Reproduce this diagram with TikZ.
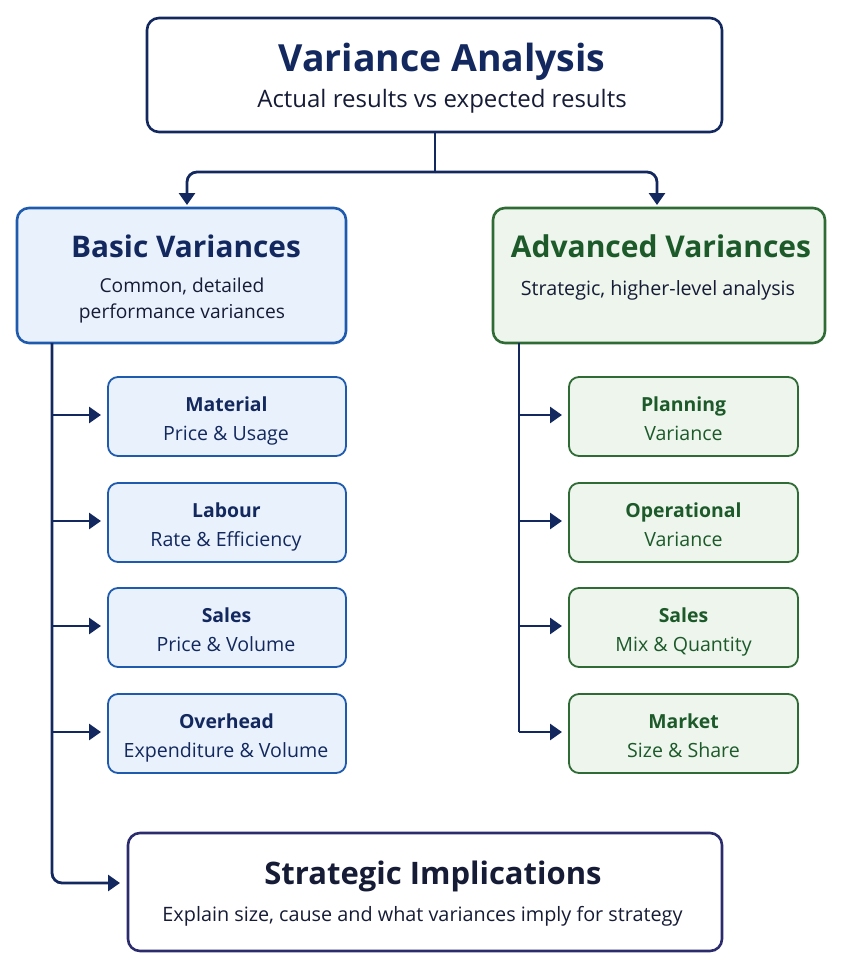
\documentclass[tikz,border=0pt]{standalone}
\usepackage{fontspec}
\setmainfont{Open Sans}
\usetikzlibrary{arrows.meta,calc}
\definecolor{navy}{HTML}{13285E}
\definecolor{inktext}{HTML}{161C36}
\definecolor{blueborder}{HTML}{1E5AAE}
\definecolor{bluefill}{HTML}{E9F2FC}
\definecolor{greenborder}{HTML}{2F6B34}
\definecolor{greenfill}{HTML}{EEF5ED}
\definecolor{greentext}{HTML}{1C5A2A}
\definecolor{implborder}{HTML}{2B2B6E}
\tikzset{
  box/.style={draw, rounded corners=12pt, line width=2.6pt},
  topbox/.style={box, draw=navy, fill=white},
  bluebox/.style={box, draw=blueborder, fill=bluefill},
  greenbox/.style={box, draw=greenborder, fill=greenfill},
  bsmall/.style={draw=blueborder, fill=bluefill, rounded corners=10pt, line width=1.8pt},
  gsmall/.style={draw=greenborder, fill=greenfill, rounded corners=10pt, line width=1.8pt},
  implbox/.style={box, draw=implborder, fill=white},
  txt/.style={inner sep=0pt, align=center, anchor=base},
  conn/.style={draw=navy, line width=2.8pt, rounded corners=10pt},
  arr/.style={conn, -{Triangle[length=12pt,width=16pt]}},
}
\begin{document}
\begin{tikzpicture}[x=1pt,y=-1pt]
\useasboundingbox (0,0) rectangle (842,970);
% top box
\path[topbox] (147,18) rectangle (722,132);
\node[txt, text=navy, font=\fontsize{37.4}{40}\selectfont\bfseries] (toptitle) at (442,71) {Variance Analysis};
\node[txt, text=inktext, font=\fontsize{24}{28}\selectfont] (topsub) at (442,107) {Actual results vs expected results};
\coordinate (topS) at (435,132);
% level-2 boxes
\path[bluebox] (17,208) rectangle (346,343);
\node[txt, text=navy, font=\fontsize{29.8}{32}\selectfont\bfseries] (bastitle) at (186,257) {Basic Variances};
\node[txt, text=inktext, font=\fontsize{19.2}{24}\selectfont] (bassub1) at (182,292) {Common, detailed};
\node[txt, text=inktext, font=\fontsize{19.2}{24}\selectfont] (bassub2) at (182,318.5) {performance variances};
\path[greenbox] (493,208) rectangle (825,343);
\node[txt, text=greentext, font=\fontsize{30}{32}\selectfont\bfseries] (advtitle) at (661,257) {Advanced Variances};
\node[txt, text=inktext, font=\fontsize{19.7}{24}\selectfont] (advsub) at (658,295) {Strategic, higher-level analysis};
\coordinate (basN) at (187,206);
\coordinate (advN) at (657,206);
\coordinate (mid) at (435,172);
% connectors from top
\draw[conn, rounded corners=0pt] (topS) -- (mid);
\draw[arr, shorten >=1pt] (mid) -| (basN);
\draw[arr, shorten >=1pt] (mid) -| (advN);
% basic children
\foreach \n/\y/\a/\b in {m1/377/Material/Price \& Usage, m2/483/Labour/Rate \& Efficiency, m3/588/Sales/Price \& Volume, m4/694/Overhead/Expenditure \& Volume}{
  \path[bsmall] (108,\y) rectangle (346,\y+79);
  \node[txt, text=navy, font=\fontsize{19.4}{24}\selectfont\bfseries] (\n t) at (226.5,\y+34) {\a};
  \node[txt, text=navy, font=\fontsize{19.6}{24}\selectfont] (\n s) at (226,\y+63) {\b};
  \coordinate (\n W) at (107,\y+38);
}
% advanced children
\foreach \n/\y/\a/\b in {g1/377/Planning/Variance, g2/483/Operational/Variance, g3/588/Sales/Mix \& Quantity, g4/694/Market/Size \& Share}{
  \path[gsmall] (569,\y) rectangle (798,\y+79);
  \node[txt, text=greentext, font=\fontsize{19.4}{24}\selectfont\bfseries] (\n t) at (683.5,\y+34) {\a};
  \node[txt, text=greentext, font=\fontsize{19.6}{24}\selectfont] (\n s) at (683.5,\y+63) {\b};
  \coordinate (\n W) at (568,\y+38);
}
% bottom box
\path[implbox] (128,833) rectangle (722,951);
\node[txt, text=inktext, font=\fontsize{31}{33}\selectfont\bfseries] (impltitle) at (433,884) {Strategic Implications};
\node[txt, text=inktext, font=\fontsize{19.8}{24}\selectfont] (implsub) at (422.5,921) {Explain size, cause and what variances imply for strategy};
\coordinate (implW) at (120,883);
% spines
\coordinate (sL) at (52,343);
\coordinate (sR) at (519,343);
\draw[arr] (sL) |- (implW);
\draw[conn, rounded corners=0pt] (sR) -- (519,732);
\foreach \n in {m1,m2,m3,m4}{
  \draw[arr, rounded corners=0pt, shorten >=6pt] (sL |- \n W) -- (\n W);
}
\foreach \n in {g1,g2,g3,g4}{
  \draw[arr, rounded corners=0pt, shorten >=6pt] (sR |- \n W) -- (\n W);
}
\end{tikzpicture}
\end{document}
